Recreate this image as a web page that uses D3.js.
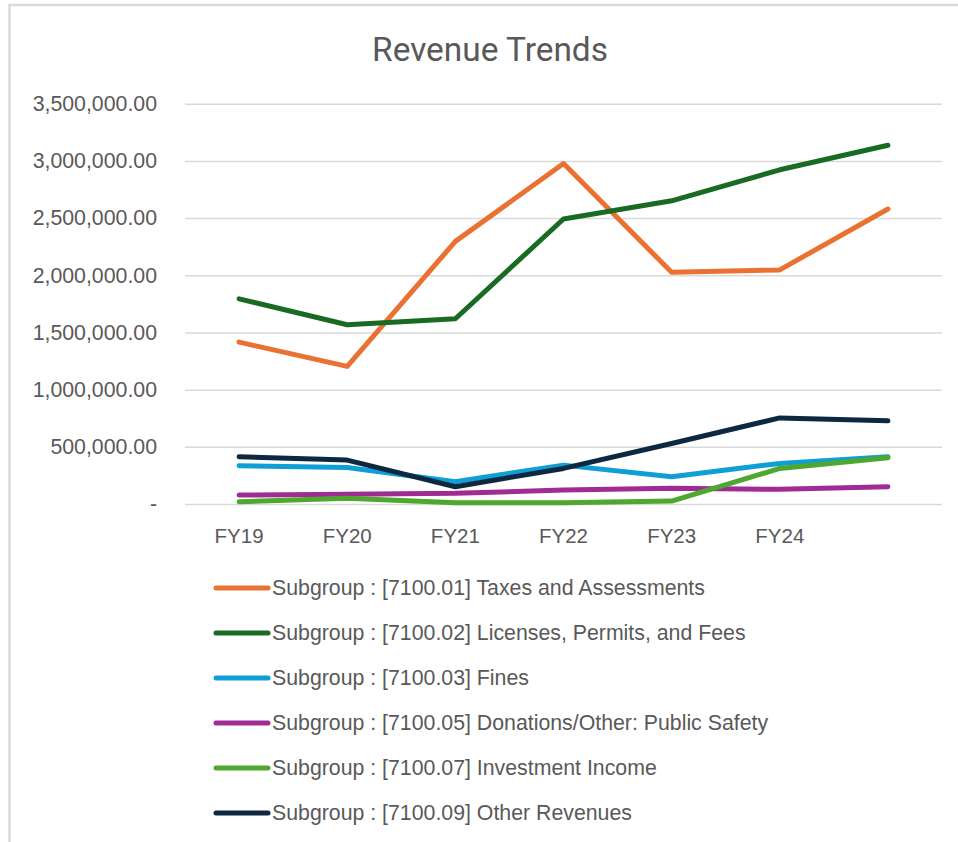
<!DOCTYPE html>
<html>
<head>
<meta charset="utf-8">
<script src="https://cdn.jsdelivr.net/npm/d3@7"></script>
<style>
  body { margin: 0; background: #fff; }
  text { fill: #595959; font-family: "Liberation Sans", Arial, sans-serif; }
</style>
</head>
<body>
<svg id="chart"></svg>
<script>
// fiscal years, last point has no label in the source chart
var years = ["FY19", "FY20", "FY21", "FY22", "FY23", "FY24", ""];

var seriesNames = [
  "Subgroup : [7100.01] Taxes and Assessments",
  "Subgroup : [7100.02] Licenses, Permits, and Fees",
  "Subgroup : [7100.03] Fines",
  "Subgroup : [7100.05] Donations/Other: Public Safety",
  "Subgroup : [7100.07] Investment Income",
  "Subgroup : [7100.09] Other Revenues"
];

var seriesColors = ["#E97132", "#196B24", "#0F9ED5", "#A02B93", "#4EA72E", "#0E2841"];

var taxes      = [1415000, 1203000, 2296000, 2977000, 2026000, 2047000, 2579000];
var licenses   = [1794000, 1567000, 1620000, 2492000, 2651000, 2922000, 3137000];
var fines      = [334000, 320000, 195000, 340000, 238000, 355000, 413000];
var donations  = [78000, 85000, 93000, 122000, 137000, 128000, 151000];
var investment = [20000, 50000, 11000, 10000, 26000, 311000, 404000];
var other      = [413000, 384000, 151000, 311000, 529000, 753000, 727000];

var yTicks = [0, 500000, 1000000, 1500000, 2000000, 2500000, 3000000, 3500000];

var width = 958, height = 842;
var svg = d3.select("#chart").attr("width", width).attr("height", height);

// outer chart border (only top and left visible)
svg.append("rect")
  .attr("x", 9.5).attr("y", 5)
  .attr("width", 1000).attr("height", 1000)
  .attr("fill", "none")
  .attr("stroke", "#D9D9D9")
  .attr("stroke-width", 2.5);

svg.append("text")
  .attr("x", 490).attr("y", 60.5)
  .attr("text-anchor", "middle")
  .style("font-family", "Roboto, 'Liberation Sans', sans-serif")
  .style("font-size", "33.4px")
  .text("Revenue Trends");

var x = d3.scaleBand()
  .domain(d3.range(years.length))
  .range([185, 942]);

var y = d3.scaleLinear()
  .domain([0, 3500000])
  .range([504, 103.7]);

var fmt = d3.format(",.2f");

// gridlines + y labels
var yAxis = svg.append("g")
  .attr("transform", "translate(185,0)")
  .call(d3.axisLeft(y).tickValues(yTicks)
    .tickSize(-(942 - 185))
    .tickPadding(28)
    .tickFormat(function(d) { return d === 0 ? "-" : fmt(d); }));
yAxis.select(".domain").remove();
yAxis.selectAll("line").attr("stroke", "#D9D9D9").attr("stroke-width", 1.5);
yAxis.selectAll("text")
  .style("font-size", "21.3px")
  .style("font-family", "'Liberation Sans', Arial, sans-serif")
  .attr("fill", "#595959");

// x labels
var xAxis = svg.append("g")
  .attr("transform", "translate(0,504)")
  .call(d3.axisBottom(x).tickSize(0).tickPadding(24)
    .tickFormat(function(i) { return years[i]; }));
xAxis.select(".domain").remove();
xAxis.selectAll("text")
  .style("font-size", "20.5px")
  .style("font-family", "'Liberation Sans', Arial, sans-serif")
  .attr("fill", "#595959");

var allSeries = [taxes, licenses, fines, donations, investment, other];

var line = d3.line()
  .x(function(d, i) { return x(i) + x.bandwidth() / 2; })
  .y(function(d) { return y(d); });

// draw in Excel order
svg.append("g").selectAll("path")
  .data(allSeries)
  .enter().append("path")
  .attr("d", line)
  .attr("fill", "none")
  .attr("stroke", function(d, i) { return seriesColors[i]; })
  .attr("stroke-width", 5)
  .attr("stroke-linejoin", "round")
  .attr("stroke-linecap", "round");

// legend
var legend = svg.append("g").selectAll("g")
  .data(seriesNames)
  .enter().append("g")
  .attr("transform", function(d, i) { return "translate(0," + (588 + i * 45) + ")"; });

legend.append("line")
  .attr("x1", 216).attr("x2", 268)
  .attr("stroke", function(d, i) { return seriesColors[i]; })
  .attr("stroke-width", 5)
  .attr("stroke-linecap", "round");

legend.append("text")
  .attr("x", 272)
  .attr("dy", "0.35em")
  .style("font-size", "21.3px")
  .text(function(d) { return d; });
</script>
</body>
</html>
